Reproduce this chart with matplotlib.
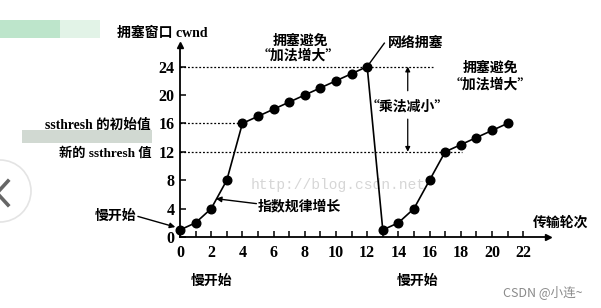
import matplotlib
matplotlib.use("Agg")
import matplotlib.pyplot as plt
from matplotlib.patches import Circle, Rectangle
from matplotlib.lines import Line2D

# ---- data ----
rounds = list(range(0, 22))
cwnd = [1, 2, 4, 8, 16, 17, 18, 19, 20, 21, 22, 23, 24,
        1, 2, 4, 8, 12, 13, 14, 15, 16]
xticks = list(range(0, 23, 2))
yticks = [0, 4, 8, 12, 16, 20, 24]
ssthresh_init = 16
ssthresh_new = 12
congestion_peak = 24

SERIF = ['Liberation Serif', 'Noto Sans CJK SC']
CJK = ['Noto Sans CJK SC', 'Liberation Serif']

W, H = 601, 308
fig = plt.figure(figsize=(W / 100, H / 100), dpi=100)
ax = fig.add_axes([0, 0, 1, 1])
ax.set_xlim(-11.54, 26.99)
ax.set_ylim(-10.0, 33.38)

def fx(px):
    return px / W

def fy(py):
    return 1 - py / H

# decorative page elements (from the screenshot)
fig.patches.append(Rectangle((0, fy(38)), fx(60), fy(20) - fy(38),
                             transform=fig.transFigure, color='#bde5cb', lw=0))
fig.patches.append(Rectangle((fx(60), fy(38)), fx(40), fy(20) - fy(38),
                             transform=fig.transFigure, color='#e2f3e7', lw=0))
fig.patches.append(Rectangle((fx(22), fy(143)), fx(130), fy(130) - fy(143),
                             transform=fig.transFigure, color='#c9d3cb',
                             lw=0, alpha=0.85))
circ = Circle((0.0, (H - 191) / 100), 0.31, transform=fig.dpi_scale_trans,
              fill=False, ec='#e4e4e4', lw=1.2)
fig.patches.append(circ)
fig.lines.append(Line2D([fx(8), fx(-3), fx(8)], [fy(181), fy(193), fy(205)],
                        transform=fig.transFigure, color='#666666', lw=2.6))

# axes spines
for s in ['top', 'right']:
    ax.spines[s].set_visible(False)
ax.spines['left'].set_position(('data', 0))
ax.spines['bottom'].set_position(('data', 0))
ax.spines['left'].set_bounds(0, 27)
ax.spines['bottom'].set_bounds(0, 23.6)
ax.spines['left'].set_linewidth(1.3)
ax.spines['bottom'].set_linewidth(1.3)
ax.plot([0], [27], marker='^', color='black', ms=5, clip_on=False)
ax.plot([23.6], [0], marker='>', color='black', ms=5, clip_on=False)

ax.set_xticks(xticks)
ax.set_xticks([x for x in range(1, 23, 2)], minor=True)
ax.set_yticks(yticks)
ax.tick_params(axis='both', which='both', direction='in', length=4, width=1.1)
ax.tick_params(axis='x', pad=6)
ax.tick_params(axis='y', pad=4)
for lab in ax.get_xticklabels() + ax.get_yticklabels():
    lab.set_fontfamily('Liberation Serif')
    lab.set_fontweight('bold')
    lab.set_fontsize(11.5)

# dotted guides
ax.plot([0, 16.2], [congestion_peak] * 2, ls=(0, (1.5, 1.5)), color='black', lw=0.9)
ax.plot([0, 4], [ssthresh_init] * 2, ls=(0, (1.5, 1.5)), color='black', lw=0.9)
ax.plot([0, 18.1], [ssthresh_new] * 2, ls=(0, (1.5, 1.5)), color='black', lw=0.9)

# main curve
ax.plot(rounds, cwnd, color='black', lw=1.2, marker='o', ms=6.2, zorder=5)

# annotations
ax.text(-4.05, 28.7, '拥塞窗口 cwnd', family=SERIF, fontsize=10,
        fontweight='bold', ha='left', va='center')
ax.text(7.7, 27.6, '拥塞避免', family=CJK, fontsize=10, fontweight='bold',
        ha='center', va='center')
ax.text(7.6, 25.5, '“加法增大”', family=CJK, fontsize=10, fontweight='bold',
        ha='center', va='center')
ax.text(19.9, 23.8, '拥塞避免', family=CJK, fontsize=10, fontweight='bold',
        ha='center', va='center')
ax.text(19.9, 21.4, '“加法增大”', family=CJK, fontsize=10, fontweight='bold',
        ha='center', va='center')

ax.plot([12, 13.1], [24, 27.3], color='black', lw=1.0)
ax.text(13.3, 27.3, '网络拥塞', family=CJK, fontsize=10, fontweight='bold',
        ha='left', va='center')

ax.text(14.6, 18.3, '“乘法减小”', family=CJK, fontsize=10, fontweight='bold',
        ha='center', va='center')
ax.annotate('', xy=(14.6, 24), xytext=(14.6, 20.6),
            arrowprops=dict(arrowstyle='-|>', color='black', lw=0.9,
                            mutation_scale=7, shrinkA=0, shrinkB=0))
ax.annotate('', xy=(14.6, 12), xytext=(14.6, 16.6),
            arrowprops=dict(arrowstyle='-|>', color='black', lw=0.9,
                            mutation_scale=7, shrinkA=0, shrinkB=0))

ax.text(-1.9, 15.8, 'ssthresh 的初始值', family=SERIF, fontsize=9.8,
        fontweight='bold', ha='right', va='center')
ax.text(-1.8, 11.8, '新的 ssthresh 值', family=SERIF, fontsize=9.5,
        fontweight='bold', ha='right', va='center')

ax.text(-2.8, 2.9, '慢开始', family=CJK, fontsize=10, fontweight='bold',
        ha='right', va='center')
ax.annotate('', xy=(-0.3, 1.4), xytext=(-2.7, 2.9),
            arrowprops=dict(arrowstyle='-|>', color='black', lw=1.0,
                            mutation_scale=8, shrinkA=0, shrinkB=0))

ax.text(5.0, 4.3, '指数规律增长', family=CJK, fontsize=10, fontweight='bold',
        ha='left', va='center')
ax.annotate('', xy=(2.3, 5.4), xytext=(4.9, 4.7),
            arrowprops=dict(arrowstyle='-|>', color='black', lw=1.0,
                            mutation_scale=8, shrinkA=0, shrinkB=0))

ax.text(2.05, -6.2, '慢开始', family=CJK, fontsize=10, fontweight='bold',
        ha='center', va='center')
ax.text(15.2, -6.2, '慢开始', family=CJK, fontsize=10, fontweight='bold',
        ha='center', va='center')
ax.text(22.6, 2.0, '传输轮次', family=CJK, fontsize=10, fontweight='bold',
        ha='left', va='center')

ax.text(4.5, 7.3, 'http://blog.csdn.net', family='Liberation Mono',
        fontsize=10.5, color='#d6d6d6', ha='left', va='center', zorder=1)
ax.text(20.7, -7.7, 'CSDN @小连~', family=['Noto Sans CJK SC', 'DejaVu Sans'],
        fontsize=9, color='#8a8a8a', ha='left', va='center')

fig.savefig('out.png', dpi=100)
